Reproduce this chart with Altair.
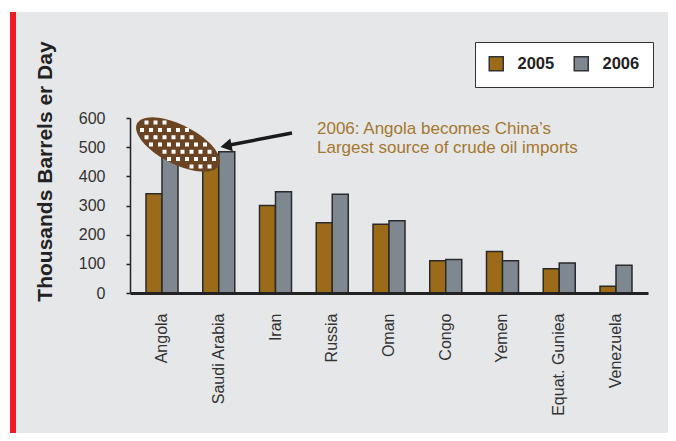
import math
import altair as alt
import pandas as pd

countries = ["Angola", "Saudi Arabia", "Iran", "Russia", "Oman", "Congo",
             "Yemen", "Equat. Guniea", "Venezuela"]
years = ["2005", "2006"]
v2005 = [340, 445, 300, 241, 236, 111, 142, 83, 23]
v2006 = [465, 484, 347, 339, 248, 115, 111, 103, 95]
y_ticks = [0, 100, 200, 300, 400, 500, 600]
bar_colors = ["#9C6B1A", "#7F8790"]
y_title = "Thousands Barrels er Day"
note_lines = ["2006: Angola becomes China\u2019s", "Largest source of crude oil imports"]

rows = []
for c, a, b in zip(countries, v2005, v2006):
    rows.append({"country": c, "year": years[0], "value": a})
    rows.append({"country": c, "year": years[1], "value": b})
df = pd.DataFrame(rows)

FONT = "Liberation Sans"
W, H = 518, 175

# background panel and red stripe
bg = alt.Chart(pd.DataFrame({"a": [0]})).mark_rect(color="#E6E7E9").encode(
    x=alt.value(-114), x2=alt.value(560), y=alt.value(-106), y2=alt.value(340))
red = alt.Chart(pd.DataFrame({"a": [0]})).mark_rect(color="#EE1C25").encode(
    x=alt.value(-120), x2=alt.value(-114), y=alt.value(-106), y2=alt.value(340))

bars = alt.Chart(df).mark_bar(stroke="#2a2a2a", strokeWidth=1.5).encode(
    x=alt.X("country:N", sort=countries,
            scale=alt.Scale(paddingInner=0.436, paddingOuter=0.282),
            axis=alt.Axis(title=None, labelAngle=270, labelPadding=20, ticks=False,
                          domainColor="#222222", domainWidth=3, labelFontSize=16,
                          labelColor="#333333", labelFont=FONT, zindex=1)),
    xOffset=alt.XOffset("year:N", sort=years, scale=alt.Scale(paddingInner=0, paddingOuter=0)),
    y=alt.Y("value:Q", scale=alt.Scale(domain=[0, 600], nice=False),
            axis=alt.Axis(title=y_title, values=y_ticks, grid=False, tickSize=4,
                          tickWidth=1.5, tickColor="#222222", domainColor="#222222",
                          domainWidth=1.5, labelPadding=21, labelFontSize=16,
                          labelColor="#333333", labelFont=FONT, titleFont=FONT,
                          titleFontSize=21, titleFontWeight="bold", titleColor="#222222",
                          titleAngle=270, titleX=-85, titleY=53, titleAlign="center",
                          titleBaseline="middle", zindex=1)),
    color=alt.Color("year:N", sort=years,
                    scale=alt.Scale(domain=years, range=bar_colors),
                    legend=alt.Legend(title=None, orient="none", legendX=345, legendY=-76,
                                      direction="horizontal", fillColor="white",
                                      strokeColor="#333333", padding=13,
                                      symbolType="square", symbolSize=196,
                                      symbolStrokeColor="#333333", symbolStrokeWidth=1.5,
                                      labelFont=FONT, labelFontSize=16.5,
                                      labelFontWeight="bold", labelColor="#222222",
                                      labelOffset=13, columnPadding=16)),
)

# patterned ellipse (decoration)
a_px, b_px, rot = 46.0, 19.5, math.radians(27)
scale_px = 46.0

def rotp(x, y):
    return (x * math.cos(rot) - y * math.sin(rot), x * math.sin(rot) + y * math.cos(rot))

pts = []
for i in range(72):
    t = 2 * math.pi * i / 72
    x, y = rotp(a_px * math.cos(t), b_px * math.sin(t))
    pts.append(f"{x/scale_px:.4f},{y/scale_px:.4f}")
ell_path = "M" + " L".join(pts) + " Z"

dx, dy, sq = 9.0, 7.3, 4.0
dot_parts = []
for r in range(-6, 7):
    for c in range(-7, 8):
        px = c * dx + (dx / 2 if r % 2 else 0)
        py = r * dy
        ux = px * math.cos(rot) + py * math.sin(rot)
        uy = -px * math.sin(rot) + py * math.cos(rot)
        if (ux / (a_px - 2)) ** 2 + (uy / (b_px - 2)) ** 2 <= 1:
            x0, y0 = (px - sq / 2) / scale_px, (py - sq / 2) / scale_px
            s = sq / scale_px
            dot_parts.append(f"M{x0:.4f},{y0:.4f} h{s:.4f} v{s:.4f} h{-s:.4f} Z")
dot_path = " ".join(dot_parts)

one = pd.DataFrame({"a": [0]})
ell = alt.Chart(one).mark_point(shape=ell_path, filled=True, color="#6B4423", opacity=1,
                                size=(2 * scale_px) ** 2).encode(
    x=alt.value(48), y=alt.value(26.5))
dots = alt.Chart(one).mark_point(shape=dot_path, filled=True, color="white", opacity=1,
                                 size=(2 * scale_px) ** 2).encode(
    x=alt.value(48), y=alt.value(26.5))

arrow_line = alt.Chart(one).mark_rule(color="#1a1a1a", strokeWidth=3.5).encode(
    x=alt.value(162), y=alt.value(15), x2=alt.value(97), y2=alt.value(27.5))
arrow_head = alt.Chart(one).mark_point(shape="triangle-left", filled=True, color="#1a1a1a",
                                       opacity=1, size=170, angle=349).encode(
    x=alt.value(96), y=alt.value(28))

note = alt.Chart(one).mark_text(align="left", baseline="alphabetic", font=FONT,
                                fontSize=17, color="#A5772F", lineHeight=19).encode(
    x=alt.value(187), y=alt.value(15.5), text=alt.value(note_lines))

chart = alt.layer(bg, red, bars, ell, dots, arrow_line, arrow_head, note).properties(
    width=W, height=H,
    padding={"left": 122, "top": 110, "right": 20, "bottom": 140},
    autosize=alt.AutoSizeParams(type="none"),
    background="white",
).configure_view(stroke=None)

chart.save("out.html", embed_options={"renderer": "svg", "actions": False})
